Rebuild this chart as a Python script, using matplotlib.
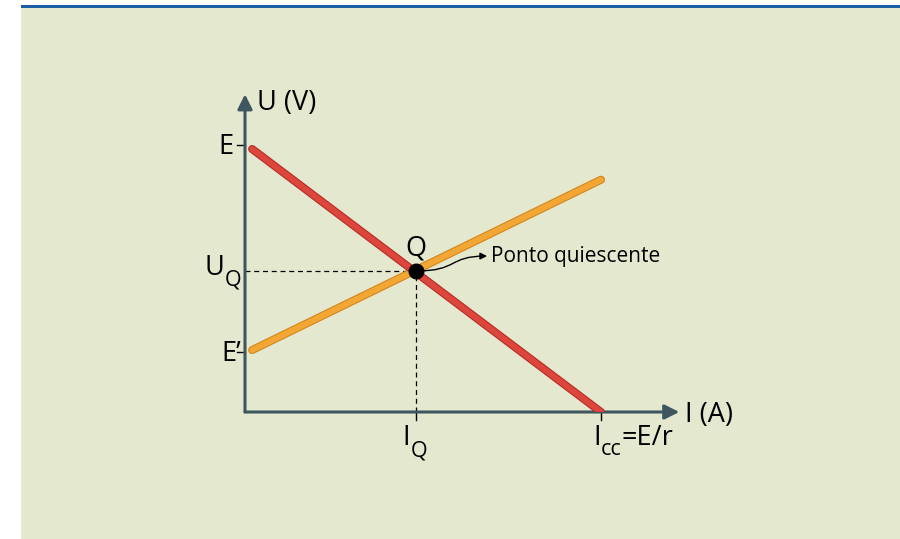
import matplotlib
matplotlib.use("Agg")
import matplotlib.pyplot as plt
import matplotlib.patheffects as pe
from matplotlib.patches import Rectangle, FancyArrowPatch
from matplotlib.path import Path

plt.rcParams['font.family'] = ['Open Sans', 'DejaVu Sans']

# data (I normalised so Icc = 1, U normalised so E = 1)
E = 1.0
E_prime = 0.225
I_cc = 1.0
I_Q = 0.48
U_Q = 0.528
red_x = [0.02, I_cc]
red_y = [0.985, 0.0]
orange_x = [0.02, I_cc]
orange_y = [0.232, 0.87]
x_max = 1.22
y_max = 1.19

fig = plt.figure(figsize=(9, 5.39), dpi=100)
fig.patch.set_facecolor('white')
W, H = 900, 539
fig.patches.append(Rectangle((21 / W, 0), 1, 531 / H, transform=fig.transFigure,
                             facecolor='#e4e8cf', edgecolor='none', zorder=-5))
fig.patches.append(Rectangle((21 / W, 531 / H), 1, 3 / H, transform=fig.transFigure,
                             facecolor='#1b5ea6', edgecolor='none', zorder=-5))

ox, oy = 245, 412
ux, uy = 356, 267
ax = fig.add_axes([ox / W, (H - oy) / H, ux * x_max / W, uy * y_max / H])
ax.set_xlim(0, x_max)
ax.set_ylim(0, y_max)
ax.patch.set_alpha(0)
for s in ax.spines.values():
    s.set_visible(False)
ax.set_xticks([])
ax.set_yticks([])

axis_col = '#3f5661'
for tip in [(x_max, 0), (0, y_max)]:
    ax.annotate('', xy=tip, xytext=(0, 0),
                arrowprops=dict(arrowstyle='-|>', lw=2.2, color=axis_col,
                                mutation_scale=22, shrinkA=0, shrinkB=0),
                annotation_clip=False)

# dashed guides
ax.plot([0, I_Q], [U_Q, U_Q], ls=(0, (4, 3)), color='black', lw=0.9, zorder=2)
ax.plot([I_Q, I_Q], [0, U_Q], ls=(0, (4, 3)), color='black', lw=0.9, zorder=2)

# small tick marks
tk = 0.022
for yv in [E, E_prime]:
    ax.plot([-tk, 0], [yv, yv], color='black', lw=1, clip_on=False)
for xv in [I_Q, I_cc]:
    ax.plot([xv, xv], [0, -0.03], color='black', lw=1, clip_on=False)

# lines
ax.plot(orange_x, orange_y, color='#f2a735', lw=4.2, solid_capstyle='round', zorder=3,
        path_effects=[pe.Stroke(linewidth=5.8, foreground='#d4861c'), pe.Normal()])
ax.plot(red_x, red_y, color='#dc463c', lw=4.2, solid_capstyle='round', zorder=4,
        path_effects=[pe.Stroke(linewidth=5.8, foreground='#b92b27'), pe.Normal()])

ax.plot([I_Q], [U_Q], 'o', color='black', ms=10.5, zorder=6)

# labels, placed in pixel offsets from data anchors
fs, sfs = 19.5, 15.5
renderer = fig.canvas.get_renderer()


def width(s, size):
    t = fig.text(0, 0, s, fontsize=size)
    w = t.get_window_extent(renderer).width
    t.remove()
    return w


def label(x, y, parts, ha='left', dx=0):
    # parts: list of (text, size, dy in pixels for baseline)
    ws = [width(p[0], p[1]) for p in parts]
    total = sum(ws)
    start = {'left': 0, 'center': -total / 2, 'right': -total}[ha] + dx
    for (s, size, dy), w in zip(parts, ws):
        ax.annotate(s, (x, y), xytext=(start, dy), textcoords='offset pixels',
                    ha='left', va='baseline', fontsize=size, annotation_clip=False)
        start += w


label(0, E, [('E', fs, -9)], ha='right', dx=-11)
label(0, E_prime, [('E\u2019', fs, -9)], ha='right', dx=-4)
label(0, U_Q, [('U', fs, -4), ('Q', sfs, -14)], ha='right', dx=-4)
label(0, y_max, [('U (V)', fs, -16)], dx=12)
label(x_max, 0, [('I (A)', fs, -10)], dx=6)
label(I_Q, 0, [('I', fs, -33), ('Q', sfs, -44)], ha='center', dx=-1)
label(I_cc, 0, [('I', fs, -33), ('cc', sfs, -43), ('=E/r', fs, -33)], dx=-8)
label(I_Q, U_Q, [('Q', fs, 16)], ha='center')
label(I_Q, U_Q, [('Ponto quiescente', 15, 9)], dx=75)

tx, ty = 0.68, 0.584
path = Path([(I_Q, U_Q), (I_Q + 0.12, U_Q), (I_Q + 0.09, ty), (tx, ty)],
            [Path.MOVETO, Path.CURVE4, Path.CURVE4, Path.CURVE4])
ax.add_patch(FancyArrowPatch(path=path, arrowstyle='-|>', mutation_scale=10,
                             color='black', lw=1, zorder=5))

fig.savefig('out.png', dpi=100)
